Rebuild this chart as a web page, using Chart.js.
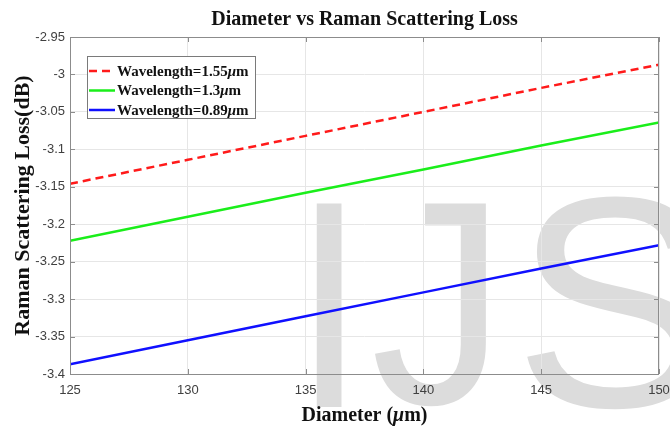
<!DOCTYPE html>
<html>
<head>
<meta charset="utf-8">
<script src="https://cdn.jsdelivr.net/npm/chart.js@4.4.1/dist/chart.umd.min.js"></script>
<style>
  html, body { margin: 0; padding: 0; background: #fff; }
  #wrap { width: 670px; height: 429px; }
</style>
</head>
<body>
<div id="wrap"><canvas id="c" width="670" height="429"></canvas></div>
<script>
// Fibre diameter (µm) and Raman scattering loss (dB) for three wavelengths
const diameters = [125, 130, 135, 140, 145, 150];
const loss155 = [-3.146, -3.114, -3.082, -3.050, -3.018, -2.987];
const loss130 = [-3.222, -3.190, -3.158, -3.127, -3.095, -3.064];
const loss089 = [-3.387, -3.355, -3.323, -3.291, -3.259, -3.228];
const seriesLabels = ['Wavelength=1.55μm', 'Wavelength=1.3μm', 'Wavelength=0.89μm'];
const xTickValues = [125, 130, 135, 140, 145, 150];
const yTickValues = [-2.95, -3, -3.05, -3.1, -3.15, -3.2, -3.25, -3.3, -3.35, -3.4];

const SERIF = "'Liberation Serif', 'Times New Roman', serif";
const SANS = "'Liberation Sans', Arial, sans-serif";

const toPoints = (ys) => diameters.map((d, i) => ({ x: d, y: ys[i] }));

// Draws text where every "μ" is set in italic
function drawMixed(ctx, text, x, y, size, align) {
  const parts = text.split(/(μ)/).filter(s => s.length);
  const fontFor = (p) => (p === 'μ' ? 'italic bold ' : 'bold ') + size + 'px ' + SERIF;
  let total = 0;
  parts.forEach(p => { ctx.font = fontFor(p); total += ctx.measureText(p).width; });
  let cx = align === 'center' ? x - total / 2 : x;
  ctx.textAlign = 'left';
  parts.forEach(p => {
    ctx.font = fontFor(p);
    ctx.fillText(p, cx, y);
    cx += ctx.measureText(p).width;
  });
}

// Draws one glyph stretched so that its ink fills the given box
function drawGlyphInBox(ctx, ch, left, top, bottom, right) {
  ctx.font = '300px ' + SANS;
  ctx.textAlign = 'left';
  ctx.textBaseline = 'alphabetic';
  const m = ctx.measureText(ch);
  const h = m.actualBoundingBoxAscent + m.actualBoundingBoxDescent;
  const w = m.actualBoundingBoxLeft + m.actualBoundingBoxRight;
  const sy = (bottom - top) / h;
  const sx = right != null ? (right - left) / w : sy;
  ctx.save();
  ctx.translate(left, top);
  ctx.scale(sx, sy);
  ctx.fillText(ch, m.actualBoundingBoxLeft, m.actualBoundingBoxAscent);
  ctx.restore();
}

const backdrop = {
  id: 'backdrop',
  beforeDraw(chart) {
    const ctx = chart.ctx;
    ctx.save();
    ctx.fillStyle = '#ffffff';
    ctx.fillRect(0, 0, chart.width, chart.height);
    // journal watermark behind the plot
    ctx.fillStyle = '#dcdcdc';
    drawGlyphInBox(ctx, 'I', 313, 199, 407, 342);
    drawGlyphInBox(ctx, 'J', 375, 199, 408, 489);
    drawGlyphInBox(ctx, 'S', 523, 195, 411, null);
    ctx.restore();
  }
};

const frameAndLegend = {
  id: 'frameAndLegend',
  afterDatasetsDraw(chart) {
    const ctx = chart.ctx;
    const a = chart.chartArea;
    const xs = chart.scales.x, ys = chart.scales.y;
    ctx.save();
    // axes box
    ctx.strokeStyle = '#8c8c8c';
    ctx.lineWidth = 1;
    ctx.strokeRect(a.left + 0.5, a.top + 0.5, a.right - a.left - 1, a.bottom - a.top);
    // inward tick marks on all four sides
    ctx.beginPath();
    xs.ticks.forEach(t => {
      const px = Math.round(xs.getPixelForValue(t.value)) + 0.5;
      ctx.moveTo(px, a.bottom); ctx.lineTo(px, a.bottom - 5);
      ctx.moveTo(px, a.top); ctx.lineTo(px, a.top + 5);
    });
    ys.ticks.forEach(t => {
      const py = Math.round(ys.getPixelForValue(t.value)) + 0.5;
      ctx.moveTo(a.left, py); ctx.lineTo(a.left + 5, py);
      ctx.moveTo(a.right, py); ctx.lineTo(a.right - 5, py);
    });
    ctx.stroke();

    // legend box in the upper left of the plot
    const bx = a.left + 17, by = a.top + 19, bw = 168, bh = 62;
    ctx.fillStyle = '#ffffff';
    ctx.fillRect(bx, by, bw, bh);
    ctx.strokeStyle = '#7a7a7a';
    ctx.strokeRect(bx + 0.5, by + 0.5, bw, bh);
    chart.data.datasets.forEach((ds, i) => {
      const ry = by + 15 + i * 19.5;
      ctx.beginPath();
      ctx.strokeStyle = ds.borderColor;
      ctx.lineWidth = ds.borderWidth;
      ctx.setLineDash(ds.borderDash || []);
      ctx.moveTo(bx + 2, ry);
      ctx.lineTo(bx + 28, ry);
      ctx.stroke();
      ctx.setLineDash([]);
      ctx.fillStyle = '#111111';
      ctx.textBaseline = 'middle';
      drawMixed(ctx, ds.label, bx + 30, ry + 1, 15, 'left');
    });
    ctx.restore();
  },
  afterDraw(chart) {
    const ctx = chart.ctx;
    const a = chart.chartArea;
    ctx.save();
    ctx.fillStyle = '#111111';
    ctx.textBaseline = 'alphabetic';
    drawMixed(ctx, 'Diameter (μm)', (a.left + a.right) / 2, 421, 20, 'center');
    ctx.restore();
  }
};

new Chart(document.getElementById('c'), {
  type: 'line',
  data: {
    datasets: [
      { label: seriesLabels[0], data: toPoints(loss155), borderColor: '#ff1a1a', borderWidth: 2.5, borderDash: [8, 5] },
      { label: seriesLabels[1], data: toPoints(loss130), borderColor: '#1aee1a', borderWidth: 2.5 },
      { label: seriesLabels[2], data: toPoints(loss089), borderColor: '#1010ff', borderWidth: 2.5 }
    ].map(d => Object.assign(d, { pointRadius: 0, fill: false, tension: 0 }))
  },
  options: {
    responsive: false,
    animation: false,
    layout: { padding: { left: 0, right: 11, top: 0, bottom: 0 } },
    plugins: {
      legend: { display: false },
      tooltip: { enabled: false },
      title: {
        display: true,
        fullSize: false,
        text: 'Diameter vs Raman Scattering Loss',
        color: '#111111',
        font: { family: SERIF, size: 20, weight: 'bold' },
        padding: { top: 8, bottom: 5 }
      }
    },
    scales: {
      x: {
        type: 'linear',
        min: 125, max: 150,
        afterBuildTicks: (s) => { s.ticks = xTickValues.map(v => ({ value: v })); },
        afterFit: (s) => { s.height = 55; s.paddingRight = 0; s.paddingLeft = 0; },
        grid: { color: '#e6e6e6', drawTicks: false },
        border: { display: false },
        ticks: {
          padding: 9,
          color: '#404040',
          font: { family: SANS, size: 13 },
          maxRotation: 0,
          callback: (v) => String(v)
        }
      },
      y: {
        type: 'linear',
        min: -3.4, max: -2.95,
        afterBuildTicks: (s) => { s.ticks = yTickValues.map(v => ({ value: v })); },
        afterFit: (s) => { s.width = 70; s.paddingTop = 0; s.paddingBottom = 0; },
        grid: { color: '#e6e6e6', drawTicks: false },
        border: { display: false },
        title: {
          display: true,
          text: 'Raman Scattering Loss(dB)',
          color: '#111111',
          font: { family: SERIF, size: 22, weight: 'bold' },
          padding: { top: 10, bottom: 0 }
        },
        ticks: {
          padding: 5,
          color: '#404040',
          font: { family: SANS, size: 13 },
          callback: (v) => String(parseFloat(Number(v).toFixed(2)))
        }
      }
    }
  },
  plugins: [backdrop, frameAndLegend]
});
</script>
</body>
</html>
